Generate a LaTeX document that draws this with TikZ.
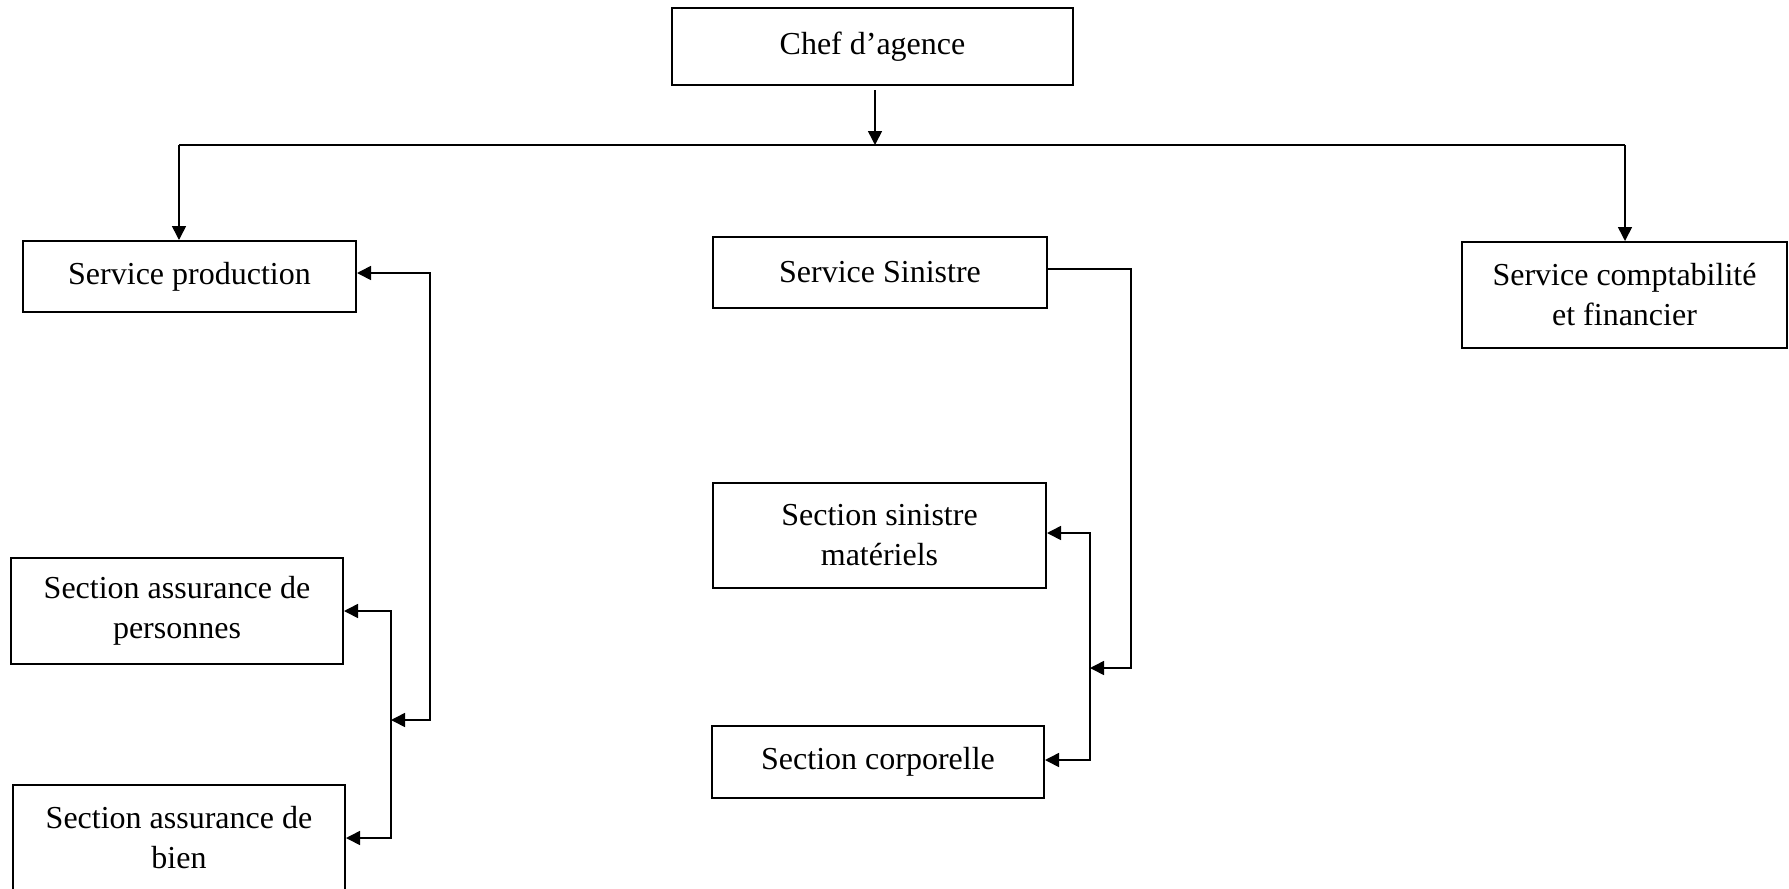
\documentclass[tikz,border=0pt]{standalone}
\usepackage{fontspec}
\setmainfont{Liberation Serif}
\usetikzlibrary{arrows.meta}
\begin{document}
\begin{tikzpicture}[x=0.5pt,y=-0.5pt,
  box/.style={draw,line width=1pt,inner sep=0pt,align=center,
    font=\fontsize{16}{20}\selectfont},
  conn/.style={line width=0.8pt},
  arr/.style={conn,-{Triangle[length=7pt,width=7pt]}},
  darr/.style={conn,{Triangle[length=7pt,width=7pt]}-{Triangle[length=7pt,width=7pt]}}]
\useasboundingbox (0,0) rectangle (1789,889);
\clip (0,0) rectangle (1789,889);
\fill[white] (0,0) rectangle (1789,889);
% nodes
\node[box,minimum width=200.5pt,minimum height=38.5pt] (chef) at (872.5,46.5) {Chef d’agence};
\node[box,minimum width=166.5pt,minimum height=35.5pt] (prod) at (189.5,276.5) {Service production};
\node[box,minimum width=167pt,minimum height=35.5pt] (sin) at (880,272.5) {Service Sinistre};
\node[box,minimum width=162.5pt,minimum height=53pt] (compt) at (1624.5,295) {Service comptabilité\\et financier};
\node[box,minimum width=166pt,minimum height=53pt] (pers) at (177,611) {Section assurance de\\personnes};
\node[box,minimum width=166pt,minimum height=53pt] (bien) at (179,838) {Section assurance de\\bien};
\node[box,minimum width=166.5pt,minimum height=52.5pt] (mat) at (879.5,535.5) {Section sinistre\\matériels};
\node[box,minimum width=166pt,minimum height=36pt] (corp) at (878,762) {Section corporelle};
% coordinates
\coordinate (bus) at (875,145);
\coordinate (busL) at (179,145);
\coordinate (busR) at (1625,145);
\coordinate (chefout) at (875,90);
\coordinate (pA) at (430,273);
\coordinate (pB) at (430,720);
\coordinate (pC) at (391,720);
\coordinate (qA) at (391,611);
\coordinate (qB) at (391,838);
\coordinate (sA) at (1131,269);
\coordinate (sB) at (1131,668);
\coordinate (sC) at (1090,668);
\coordinate (mA) at (1090,533);
\coordinate (mB) at (1090,760);
% connectors
\draw[arr] (chefout) -- (bus);
\draw[conn] (busL) -- (busR);
\draw[arr] (busL) -- (busL |- prod.north);
\draw[arr] (busR) -- (busR |- compt.north);
\draw[darr] (prod.east |- pA) -- (pA) -- (pB) -- (pC);
\draw[darr] (pers.east |- qA) -- (qA) -- (qB) -- (bien.east |- qB);
\draw[arr] (sin.east |- sA) -- (sA) -- (sB) -- (sC);
\draw[darr] (mat.east |- mA) -- (mA) -- (mB) -- (corp.east |- mB);
\end{tikzpicture}
\end{document}
